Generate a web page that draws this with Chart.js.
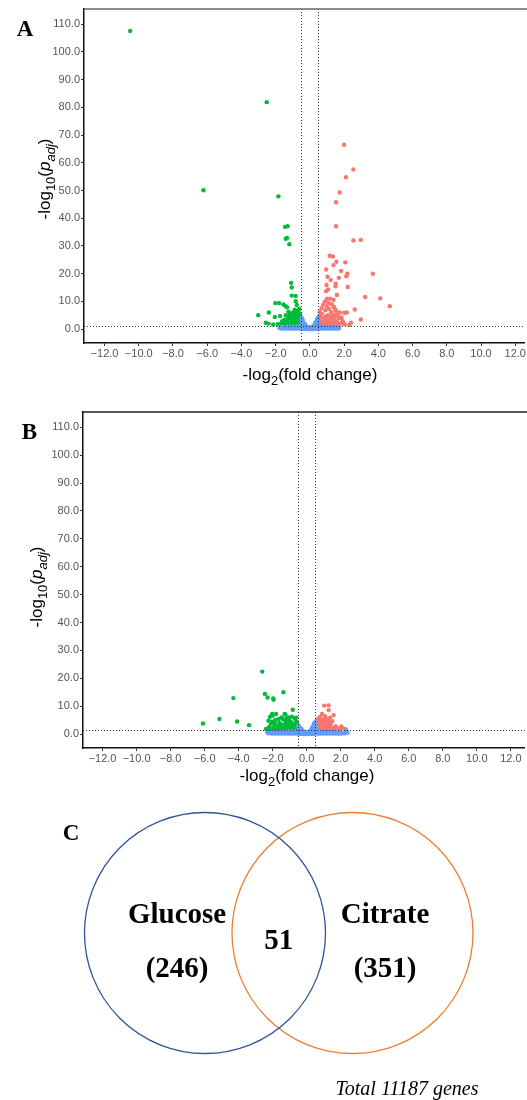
<!DOCTYPE html>
<html>
<head>
<meta charset="utf-8">
<script src="https://cdn.jsdelivr.net/npm/chart.js@4.4.1/dist/chart.umd.min.js"></script>
<style>
  body { margin: 0; background: #fff; }
  #page { position: relative; width: 527px; height: 1100px; overflow: hidden; }
  canvas { position: absolute; left: 0; }
</style>
</head>
<body>
<div id="page">
  <canvas id="chartA" width="527" height="390" style="top:0"></canvas>
  <canvas id="chartB" width="527" height="400" style="top:390px"></canvas>
  <canvas id="chartC" width="527" height="310" style="top:790px"></canvas>
</div>
<script>
(function() {
  'use strict';

  // thresholds (log2 fold change / -log10 padj)
  var fcCut = [-0.5, 0.5];
  var padjCut = 1.3;

  // panel A : [log2FC, -log10 padj]
  var aDown = [
    [-10.5, 107.6], [-2.52, 81.9], [-6.22, 50.1], [-1.84, 47.9], [-1.45, 36.9], [-1.30, 37.1],
    [-1.41, 32.6], [-1.34, 32.9], [-1.20, 30.6], [-1.10, 16.7], [-1.06, 15.0], [-1.06, 12.1],
    [-0.83, 12.0], [-2.02, 9.4], [-1.80, 9.4], [-1.55, 8.9], [-1.41, 8.3], [-1.34, 7.9],
    [-0.83, 10.1], [-0.77, 8.7], [-0.89, 7.0], [-0.72, 6.2], [-3.02, 5.05], [-2.40, 6.0],
    [-2.05, 4.4], [-1.74, 4.7], [-2.58, 2.3], [-2.42, 2.0], [-2.15, 1.7], [-1.88, 1.8],
    [-1.57, 2.4], [-1.41, 5.05],
    [-1.0, 2.0], [-0.95, 3.1], [-0.9, 4.2], [-0.85, 5.3], [-0.8, 2.6], [-0.75, 3.8],
    [-0.7, 4.9], [-0.65, 2.1], [-0.6, 3.3], [-0.55, 4.5], [-0.52, 2.0], [-0.58, 5.6],
    [-0.68, 6.8], [-0.78, 1.7], [-0.88, 2.3], [-0.98, 4.6], [-1.08, 3.3], [-1.18, 2.1],
    [-1.28, 3.9], [-1.38, 1.8], [-1.15, 5.4], [-1.25, 6.3], [-0.62, 7.3], [-0.72, 1.6],
    [-0.82, 6.0], [-0.92, 1.5], [-1.02, 5.8], [-1.12, 1.6], [-0.56, 1.6], [-0.6, 2.7],
    [-0.66, 3.6], [-0.74, 2.9], [-0.84, 4.0], [-0.94, 3.7], [-1.05, 2.6], [-1.22, 4.5],
    [-1.32, 2.7], [-1.48, 3.4], [-1.62, 2.9], [-1.7, 1.9], [-0.54, 3.0], [-0.7, 5.8],
    [-0.9, 6.5], [-0.78, 4.4], [-0.64, 4.1], [-1.45, 1.5]
  ];
  var aUp = [
    [2.0, 66.5], [2.54, 57.6], [2.11, 54.8], [1.74, 49.3], [1.53, 45.8], [1.53, 37.1],
    [2.54, 32.0], [2.97, 32.2], [1.16, 26.5], [1.34, 26.2], [1.55, 24.3], [1.38, 23.1],
    [2.07, 24.1], [0.95, 21.5], [1.82, 21.0], [2.19, 20.0], [2.13, 19.1], [3.68, 20.0],
    [1.03, 18.9], [1.69, 18.5], [1.22, 17.7], [0.97, 15.9], [1.51, 16.4], [2.21, 15.2],
    [1.06, 14.3], [0.95, 13.7], [3.23, 11.6], [4.11, 11.1], [4.67, 8.3], [2.62, 7.1],
    [2.98, 3.5], [2.16, 6.0], [2.01, 5.9], [1.94, 2.5], [2.40, 2.3], [2.03, 1.8],
    [1.49, 15.5], [1.0, 11.0],
    [0.55, 2.0], [0.6, 3.2], [0.65, 4.4], [0.7, 5.6], [0.75, 1.7], [0.8, 2.8],
    [0.85, 4.0], [0.9, 6.8], [0.95, 2.2], [1.0, 3.5], [1.05, 5.0], [1.1, 1.6],
    [1.15, 2.9], [1.2, 4.2], [1.25, 6.1], [1.3, 2.3], [1.35, 3.7], [1.4, 8.0],
    [1.45, 1.8], [1.5, 3.1], [1.55, 5.3], [1.6, 2.4], [1.65, 1.6], [1.7, 3.9],
    [1.8, 2.0], [1.9, 3.0], [0.58, 6.3], [0.68, 7.6], [0.78, 8.9], [0.88, 10.0],
    [0.98, 8.2], [1.08, 9.4], [1.18, 11.0], [1.28, 9.0], [1.38, 10.6], [1.48, 7.1],
    [1.58, 12.3], [0.62, 1.5], [0.72, 2.5], [0.82, 1.5], [0.92, 4.6], [1.02, 1.9],
    [1.12, 7.3], [1.22, 2.6], [1.32, 5.1], [1.42, 4.5], [1.52, 6.6], [1.62, 4.8],
    [1.75, 6.0], [1.85, 4.2], [2.3, 1.6], [0.54, 4.8], [0.66, 2.2], [0.86, 3.1],
    [1.06, 2.5], [1.26, 1.7]
  ];
  var aNs = [
    [-0.48, 0.2], [-0.48, 1.0], [-0.48, 1.8], [-0.48, 2.6], [-0.48, 3.4], [-0.48, 4.0],
    [-0.42, 0.2], [-0.42, 1.0], [-0.42, 1.8], [-0.42, 2.7], [-0.42, 3.3],
    [-0.36, 0.1], [-0.36, 0.8], [-0.36, 1.6], [-0.36, 2.3],
    [-0.30, 0.1], [-0.30, 0.7], [-0.30, 1.4], [-0.30, 1.9],
    [-0.24, 0.1], [-0.24, 0.6], [-0.24, 1.2],
    [-0.18, 0.05], [-0.18, 0.5], [-0.18, 0.9],
    [-0.12, 0.05], [-0.12, 0.4], [-0.12, 0.7],
    [-0.06, 0.03], [-0.06, 0.3], [-0.06, 0.6],
    [0, 0.02], [0, 0.3], [0.06, 0.03], [0.06, 0.4],
    [0.12, 0.05], [0.12, 0.5], [0.12, 0.8],
    [0.18, 0.05], [0.18, 0.6], [0.18, 1.0],
    [0.24, 0.1], [0.24, 0.7], [0.24, 1.3],
    [0.30, 0.1], [0.30, 0.8], [0.30, 1.6], [0.30, 2.1],
    [0.36, 0.1], [0.36, 0.9], [0.36, 1.8], [0.36, 2.6],
    [0.42, 0.2], [0.42, 1.0], [0.42, 2.0], [0.42, 3.0], [0.42, 3.6],
    [0.48, 0.2], [0.48, 1.1], [0.48, 2.1], [0.48, 3.1], [0.48, 4.2],
    [-0.55, 0.3], [-0.55, 0.9], [-0.65, 0.2], [-0.65, 0.8], [-0.75, 0.3], [-0.75, 1.0],
    [-0.85, 0.2], [-0.85, 0.7], [-0.95, 0.3], [-0.95, 0.9], [-1.05, 0.2], [-1.05, 0.8],
    [-1.15, 0.3], [-1.15, 0.9], [-1.25, 0.2], [-1.25, 0.7], [-1.35, 0.3], [-1.35, 0.8],
    [-1.45, 0.2], [-1.45, 0.6], [-1.55, 0.3], [-1.65, 0.2], [-1.78, 0.4],
    [0.55, 0.3], [0.55, 0.9], [0.65, 0.2], [0.65, 0.8], [0.75, 0.3], [0.75, 1.0],
    [0.85, 0.2], [0.85, 0.7], [0.95, 0.3], [0.95, 0.9], [1.05, 0.2], [1.05, 0.8],
    [1.15, 0.3], [1.15, 0.9], [1.25, 0.2], [1.25, 0.7], [1.35, 0.3], [1.35, 0.8],
    [1.45, 0.2], [1.45, 0.6], [1.55, 0.3], [1.55, 0.7], [1.65, 0.2], [1.65, 0.5], [1.72, 0.4]
  ];

  // panel B
  var bDown = [
    [-2.61, 22.4], [-2.46, 14.4], [-2.30, 13.1], [-1.97, 12.8], [-1.95, 12.3], [-1.37, 15.0],
    [-4.31, 12.9], [-6.10, 3.8], [-5.13, 5.4], [-4.09, 4.5], [-3.39, 3.2], [-0.82, 8.7],
    [-1.30, 7.2], [-1.25, 7.0], [-2.03, 7.2], [-1.80, 7.2], [-2.39, 1.8], [-2.16, 6.2],
    [-2.0, 6.6], [-1.87, 4.2], [-2.34, 1.8],
    [-2.3, 1.6], [-2.2, 2.6], [-2.1, 3.8], [-2.0, 2.0], [-1.9, 3.0], [-1.85, 5.0],
    [-1.75, 1.7], [-1.7, 2.8], [-1.6, 4.0], [-1.55, 1.5], [-1.5, 2.4], [-1.45, 3.4],
    [-1.4, 5.3], [-1.35, 1.9], [-1.3, 2.9], [-1.25, 4.4], [-1.2, 1.6], [-1.15, 3.6],
    [-1.1, 2.4], [-1.05, 5.0], [-1.0, 1.7], [-0.95, 3.0], [-0.9, 4.2], [-0.85, 2.2],
    [-0.8, 1.5], [-0.75, 3.4], [-0.7, 5.5], [-0.65, 2.5], [-0.6, 1.6], [-0.55, 3.3],
    [-0.52, 2.1], [-0.58, 4.4], [-0.68, 3.8], [-0.78, 2.7], [-0.88, 6.2], [-0.98, 4.6],
    [-1.08, 6.0], [-1.18, 5.6], [-1.28, 3.1], [-1.48, 6.0], [-1.65, 5.4], [-2.05, 4.4],
    [-2.25, 4.8], [-0.62, 5.9], [-0.72, 2.0], [-0.92, 1.9], [-1.62, 3.4], [-1.92, 1.6],
    [-2.15, 1.7]
  ];
  var bUp = [
    [1.03, 10.2], [1.29, 10.3], [1.29, 8.6], [1.58, 6.8], [0.90, 7.2], [2.03, 2.7],
    [2.26, 1.8], [1.87, 1.8], [2.32, 1.5],
    [0.55, 1.7], [0.6, 2.7], [0.65, 3.7], [0.7, 1.5], [0.75, 2.3], [0.8, 4.5],
    [0.85, 3.1], [0.9, 1.8], [0.95, 2.6], [1.0, 5.3], [1.05, 3.6], [1.1, 1.6],
    [1.15, 2.4], [1.2, 4.1], [1.25, 3.0], [1.3, 1.7], [1.35, 2.5], [1.4, 3.4],
    [1.45, 1.6], [1.5, 4.6], [1.55, 2.2], [1.6, 1.5], [1.7, 2.8], [1.8, 1.9],
    [0.58, 4.8], [0.68, 5.6], [0.78, 6.1], [0.88, 5.0], [0.98, 4.0], [1.08, 6.4],
    [1.18, 5.4], [1.28, 4.8], [1.38, 5.9], [0.62, 2.0], [0.72, 3.1], [0.82, 2.0],
    [0.92, 4.2], [1.02, 2.0], [1.12, 2.9], [1.32, 3.7], [2.1, 2.2], [1.95, 1.5]
  ];
  var bNs = [
    [-0.48, 0.2], [-0.48, 1.0], [-0.48, 1.8], [-0.48, 2.6], [-0.48, 3.1],
    [-0.42, 0.2], [-0.42, 0.9], [-0.42, 1.7], [-0.42, 2.4],
    [-0.36, 0.1], [-0.36, 0.8], [-0.36, 1.5], [-0.36, 2.0],
    [-0.30, 0.1], [-0.30, 0.7], [-0.30, 1.3], [-0.30, 1.7],
    [-0.24, 0.1], [-0.24, 0.6], [-0.24, 1.1],
    [-0.18, 0.05], [-0.18, 0.5], [-0.18, 0.9],
    [-0.12, 0.05], [-0.12, 0.4], [-0.12, 0.7],
    [-0.06, 0.03], [-0.06, 0.3], [-0.06, 0.5],
    [0, 0.02], [0, 0.3], [0.06, 0.03], [0.06, 0.4],
    [0.12, 0.05], [0.12, 0.5], [0.12, 0.8],
    [0.18, 0.05], [0.18, 0.6], [0.18, 1.0],
    [0.24, 0.1], [0.24, 0.7], [0.24, 1.3],
    [0.30, 0.1], [0.30, 0.8], [0.30, 1.6], [0.30, 2.2],
    [0.36, 0.1], [0.36, 0.9], [0.36, 1.8], [0.36, 2.7],
    [0.42, 0.2], [0.42, 1.0], [0.42, 2.0], [0.42, 3.0], [0.42, 3.7],
    [0.48, 0.2], [0.48, 1.1], [0.48, 2.2], [0.48, 3.2], [0.48, 4.2],
    [-0.55, 0.3], [-0.55, 0.9], [-0.65, 0.2], [-0.65, 0.8], [-0.75, 0.3], [-0.75, 1.0],
    [-0.85, 0.2], [-0.85, 0.7], [-0.95, 0.3], [-0.95, 0.9], [-1.05, 0.2], [-1.05, 0.8],
    [-1.15, 0.3], [-1.15, 0.9], [-1.25, 0.2], [-1.25, 0.7], [-1.35, 0.3], [-1.35, 0.8],
    [-1.45, 0.2], [-1.45, 0.7], [-1.55, 0.3], [-1.55, 0.8], [-1.65, 0.2], [-1.65, 0.6],
    [-1.75, 0.3], [-1.85, 0.2], [-1.85, 0.7], [-1.95, 0.3], [-2.05, 0.2], [-2.15, 0.4],
    [-2.25, 0.3], [-2.32, 0.6],
    [0.55, 0.3], [0.55, 0.9], [0.65, 0.2], [0.65, 0.8], [0.75, 0.3], [0.75, 1.0],
    [0.85, 0.2], [0.85, 0.7], [0.95, 0.3], [0.95, 0.9], [1.05, 0.2], [1.05, 0.8],
    [1.15, 0.3], [1.15, 0.9], [1.25, 0.2], [1.25, 0.7], [1.35, 0.3], [1.35, 0.8],
    [1.45, 0.2], [1.45, 0.6], [1.55, 0.3], [1.55, 0.8], [1.65, 0.2], [1.65, 0.6],
    [1.75, 0.3], [1.85, 0.2], [1.85, 0.7], [1.95, 0.3], [2.05, 0.2], [2.15, 0.4],
    [2.25, 0.3], [2.32, 1.2], [2.4, 0.5]
  ];

  // panel C
  var vennSets = ['Glucose', 'Citrate'];
  var vennOnly = [246, 351];
  var vennShared = 51;
  var totalGenes = 11187;
  var vennCenters = [0, 1.224];

  var colDown = '#00BA38';
  var colUp = '#F8766D';
  var colNs = '#619CFF';
  var sans = "'Liberation Sans', Arial, sans-serif";
  var serif = "'Liberation Serif', 'Times New Roman', serif";

  var xTitle = [['-log', ''], ['2', 'sub'], ['(fold change)', '']];
  var yTitle = [['-log', ''], ['10', 'sub'], ['(', ''], ['p', 'it'], ['adj', 'itsub'], [')', '']];

  function toPoints(list) {
    return list.map(function(p) { return { x: p[0], y: p[1] }; });
  }

  function partFont(style, size) {
    var s = style.indexOf('sub') >= 0 ? Math.round(size * 0.75) : size;
    var it = style.indexOf('it') === 0 ? 'italic ' : '';
    return it + s + 'px ' + sans;
  }

  // text centred on 0, baseline on 0, with subscripts
  function drawRich(ctx, parts, size) {
    var widths = [];
    var total = 0;
    parts.forEach(function(p) {
      ctx.font = partFont(p[1], size);
      var w = ctx.measureText(p[0]).width;
      widths.push(w);
      total += w;
    });
    var x = -total / 2;
    ctx.textAlign = 'left';
    ctx.textBaseline = 'alphabetic';
    parts.forEach(function(p, i) {
      ctx.font = partFont(p[1], size);
      ctx.fillText(p[0], x, p[1].indexOf('sub') >= 0 ? size * 0.3 : 0);
      x += widths[i];
    });
  }

  var volcanoDecor = {
    id: 'volcanoDecor',
    afterDatasetsDraw: function(chart, args, opts) {
      var ctx = chart.ctx;
      var area = chart.chartArea;
      var xs = chart.scales.x;
      var ys = chart.scales.y;
      ctx.save();
      ctx.strokeStyle = '#333';
      ctx.lineWidth = 1;
      ctx.setLineDash([1, 2]);
      fcCut.forEach(function(v) {
        var px = Math.round(xs.getPixelForValue(v)) + 0.5;
        ctx.beginPath();
        ctx.moveTo(px, area.top);
        ctx.lineTo(px, area.bottom);
        ctx.stroke();
      });
      var py = Math.round(ys.getPixelForValue(padjCut)) + 0.5;
      ctx.beginPath();
      ctx.moveTo(area.left, py);
      ctx.lineTo(area.right, py);
      ctx.stroke();
      ctx.restore();
    },
    afterDraw: function(chart, args, opts) {
      var ctx = chart.ctx;
      var area = chart.chartArea;
      ctx.save();
      ctx.strokeStyle = opts.topColor;
      ctx.lineWidth = 1.5;
      ctx.beginPath();
      ctx.moveTo(area.left, area.top);
      ctx.lineTo(chart.width, area.top);
      ctx.stroke();

      ctx.fillStyle = '#000';
      ctx.save();
      ctx.translate(opts.xTitleX, opts.xTitleY);
      drawRich(ctx, xTitle, 17);
      ctx.restore();

      ctx.save();
      ctx.translate(opts.yTitleX, opts.yTitleY);
      ctx.rotate(-Math.PI / 2);
      drawRich(ctx, yTitle, 17);
      ctx.restore();

      ctx.font = 'bold 23px ' + serif;
      ctx.textAlign = 'center';
      ctx.textBaseline = 'alphabetic';
      ctx.fillText(opts.letter, opts.letterX, opts.letterY);
      ctx.restore();
    }
  };

  function volcano(id, down, up, ns, deco) {
    var tickFont = { family: sans, size: 11 };
    return new Chart(document.getElementById(id), {
      type: 'scatter',
      data: {
        datasets: [
          { data: toPoints(ns), backgroundColor: colNs },
          { data: toPoints(down), backgroundColor: colDown },
          { data: toPoints(up), backgroundColor: colUp }
        ]
      },
      options: {
        responsive: false,
        animation: false,
        layout: { padding: { top: deco.padTop, left: 0, right: 0, bottom: 0 } },
        elements: { point: { radius: 2.2, borderWidth: 0, hoverRadius: 2.2 } },
        plugins: {
          legend: { display: false },
          tooltip: { enabled: false },
          volcanoDecor: deco
        },
        scales: {
          x: {
            type: 'linear',
            min: deco.xMin,
            max: deco.xMax,
            afterFit: function(s) { s.height = deco.xHeight; },
            border: { display: true, color: '#111', width: 1.5 },
            grid: { drawOnChartArea: false, drawTicks: true, tickLength: 3, color: '#333' },
            ticks: {
              stepSize: 2,
              includeBounds: false,
              maxRotation: 0,
              autoSkip: false,
              padding: 1,
              color: '#555',
              font: tickFont,
              callback: function(v) { return (v < 0 ? '\u2212' : '') + Math.abs(v).toFixed(1); }
            }
          },
          y: {
            type: 'linear',
            min: -5,
            max: 115.5,
            afterFit: function(s) { s.width = deco.yWidth; },
            border: { display: true, color: '#111', width: 1.5 },
            grid: { drawOnChartArea: false, drawTicks: true, tickLength: 3, color: '#333' },
            ticks: {
              stepSize: 10,
              includeBounds: false,
              autoSkip: false,
              padding: 1,
              color: '#555',
              font: tickFont,
              callback: function(v) { return v.toFixed(1); }
            }
          }
        }
      },
      plugins: [volcanoDecor]
    });
  }

  volcano('chartA', aDown, aUp, aNs, {
    padTop: 9, yWidth: 84, xHeight: 47, xMin: -13.2, xMax: 12.55, topColor: '#666',
    xTitleX: 310, xTitleY: 380, yTitleX: 50, yTitleY: 179,
    letter: 'A', letterX: 25, letterY: 36
  });
  volcano('chartB', bDown, bUp, bNs, {
    padTop: 22, yWidth: 83, xHeight: 42, xMin: -13.15, xMax: 12.82, topColor: '#222',
    xTitleX: 307, xTitleY: 391, yTitleX: 42, yTitleY: 197,
    letter: 'B', letterX: 29.5, letterY: 49
  });

  var vennText = {
    id: 'vennText',
    afterDraw: function(chart) {
      var ctx = chart.ctx;
      var xs = chart.scales.x;
      var ys = chart.scales.y;
      function put(txt, x, y) {
        ctx.fillText(txt, xs.getPixelForValue(x), ys.getPixelForValue(y));
      }
      ctx.save();
      ctx.fillStyle = '#000';
      ctx.textAlign = 'center';
      ctx.textBaseline = 'alphabetic';
      ctx.font = 'bold 29px ' + serif;
      put(vennSets[0], vennCenters[0] - 0.232, 0.085);
      put('(' + vennOnly[0] + ')', vennCenters[0] - 0.232, -0.363);
      put(vennSets[1], vennCenters[1] + 0.27, 0.085);
      put('(' + vennOnly[1] + ')', vennCenters[1] + 0.27, -0.363);
      put(String(vennShared), (vennCenters[0] + vennCenters[1]) / 2, -0.135);
      ctx.font = 'bold 23px ' + serif;
      put('C', -1.112, 0.772);
      ctx.font = 'italic 20px ' + serif;
      put('Total ' + totalGenes + ' genes', 1.676, -1.345);
      ctx.restore();
    }
  };

  function unitRadius(ctx) {
    var s = ctx.chart.scales.x;
    return s.getPixelForValue(1) - s.getPixelForValue(0);
  }

  new Chart(document.getElementById('chartC'), {
    type: 'scatter',
    data: {
      datasets: vennSets.map(function(name, i) {
        return {
          label: name,
          data: [{ x: vennCenters[i], y: 0 }],
          backgroundColor: 'rgba(0,0,0,0)',
          borderColor: i === 0 ? '#2F5597' : '#ED7D31',
          borderWidth: 1.3,
          clip: false
        };
      })
    },
    options: {
      responsive: false,
      animation: false,
      layout: { padding: 0 },
      elements: { point: { radius: unitRadius, hoverRadius: unitRadius } },
      plugins: { legend: { display: false }, tooltip: { enabled: false } },
      scales: {
        x: { type: 'linear', display: false, min: -1.701, max: 2.672 },
        y: { type: 'linear', display: false, min: -1.386, max: 1.187 }
      }
    },
    plugins: [vennText]
  });
})();
</script>
</body>
</html>
